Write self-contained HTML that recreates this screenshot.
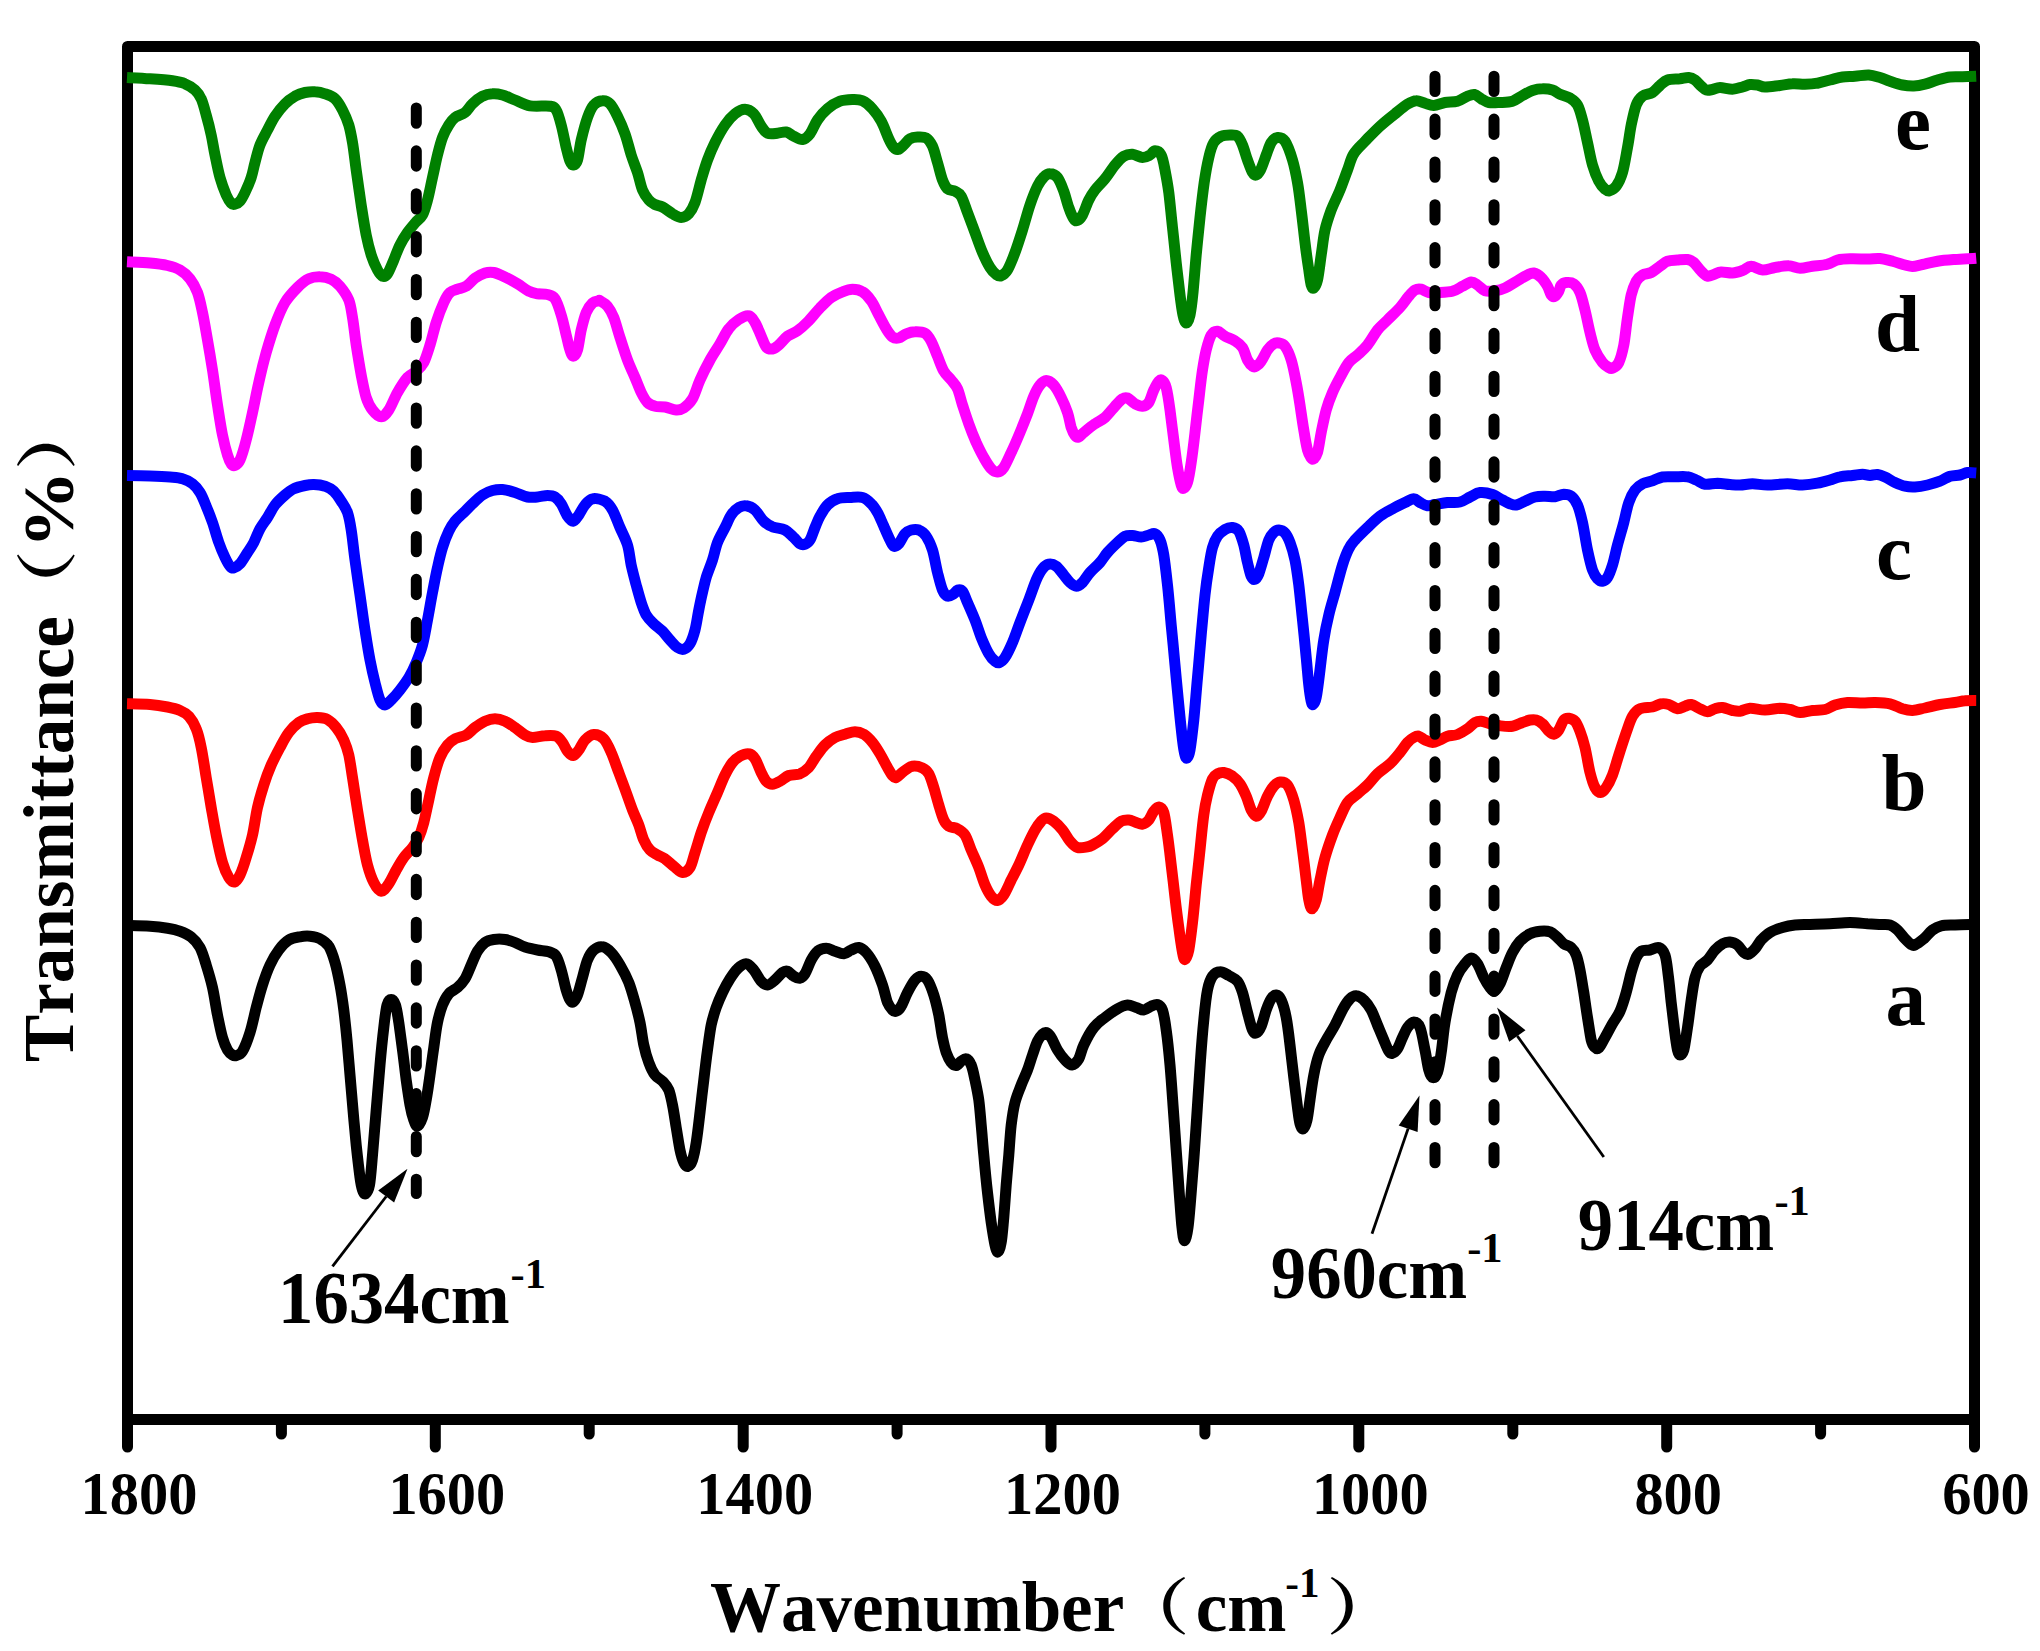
<!DOCTYPE html>
<html lang="en"><head><meta charset="utf-8"><title>FTIR spectra</title>
<style>html,body{margin:0;padding:0;background:#fff}svg{display:block}text{font-family:'Liberation Serif','Noto Serif CJK SC',serif;font-weight:bold;fill:#000;font-kerning:none}</style></head><body>
<svg width="2040" height="1651" viewBox="0 0 2040 1651">
<rect x="0" y="0" width="2040" height="1651" fill="#fff"/>
<rect x="127.5" y="46.5" width="1847.0" height="1373.0" fill="none" stroke="#000" stroke-width="11" stroke-linejoin="round"/>
<g stroke="#000" stroke-width="11" stroke-linecap="round">
<path d="M127.5 1419.5V1447.0"/>
<path d="M281.4 1419.5V1434.0"/>
<path d="M435.3 1419.5V1447.0"/>
<path d="M589.2 1419.5V1434.0"/>
<path d="M743.2 1419.5V1447.0"/>
<path d="M897.1 1419.5V1434.0"/>
<path d="M1051.0 1419.5V1447.0"/>
<path d="M1204.9 1419.5V1434.0"/>
<path d="M1358.8 1419.5V1447.0"/>
<path d="M1512.8 1419.5V1434.0"/>
<path d="M1666.7 1419.5V1447.0"/>
<path d="M1820.6 1419.5V1434.0"/>
<path d="M1974.5 1419.5V1447.0"/>
</g>
<g fill="none" stroke-width="11" stroke-linejoin="round" stroke-linecap="butt">
<path stroke="#000000" d="M127.0 925.5C130.8 925.6 143.2 925.8 150.0 926.2C156.8 926.7 162.5 927.4 167.5 928.2C172.5 929.1 176.0 929.8 180.0 931.2C184.0 932.7 187.9 934.3 191.2 937.0C194.6 939.7 197.5 942.8 200.0 947.5C202.5 952.2 204.2 958.3 206.2 965.0C208.3 971.7 210.6 979.2 212.5 987.5C214.4 995.8 215.8 1006.7 217.5 1015.0C219.2 1023.3 220.8 1031.7 222.5 1037.5C224.2 1043.3 225.8 1047.1 227.5 1050.0C229.2 1052.9 231.0 1054.1 232.5 1055.0C234.0 1055.9 234.6 1056.1 236.2 1055.5C237.9 1054.9 240.2 1055.1 242.5 1051.2C244.8 1047.4 247.7 1039.8 250.0 1032.5C252.3 1025.2 254.2 1015.4 256.2 1007.5C258.3 999.6 260.2 992.1 262.5 985.0C264.8 977.9 267.3 970.8 270.0 965.0C272.7 959.2 275.6 954.2 278.8 950.0C281.9 945.8 285.2 942.2 288.8 940.0C292.3 937.8 296.5 937.4 300.0 936.8C303.5 936.1 306.7 935.9 310.0 936.2C313.3 936.6 316.9 937.1 320.0 938.8C323.1 940.4 326.2 942.3 328.8 946.2C331.2 950.2 333.1 956.0 335.0 962.5C336.9 969.0 338.5 977.1 340.0 985.0C341.5 992.9 342.6 1000.8 343.8 1010.0C344.9 1019.2 346.0 1029.2 347.0 1040.0C348.0 1050.8 349.0 1063.3 350.0 1075.0C351.0 1086.7 352.0 1098.3 353.0 1110.0C354.0 1121.7 355.1 1133.8 356.2 1145.0C357.4 1156.2 359.0 1170.0 360.0 1177.5C361.0 1185.0 361.6 1187.3 362.5 1190.0C363.4 1192.7 364.3 1194.6 365.5 1193.8C366.7 1192.9 368.3 1191.5 369.5 1185.0C370.7 1178.5 371.4 1167.5 372.5 1155.0C373.6 1142.5 375.0 1125.0 376.2 1110.0C377.5 1095.0 378.8 1078.8 380.0 1065.0C381.2 1051.2 382.6 1037.5 383.8 1027.5C384.9 1017.5 385.8 1009.7 387.0 1005.0C388.2 1000.3 389.8 999.5 391.2 999.5C392.7 999.5 394.2 1001.2 395.5 1005.0C396.8 1008.8 397.6 1015.0 398.8 1022.5C399.9 1030.0 401.2 1040.4 402.5 1050.0C403.8 1059.6 405.0 1070.8 406.2 1080.0C407.5 1089.2 408.8 1098.3 410.0 1105.0C411.2 1111.7 412.5 1116.5 413.8 1120.0C415.0 1123.5 416.0 1126.7 417.5 1126.2C419.0 1125.8 421.0 1121.9 422.5 1117.5C424.0 1113.1 425.0 1107.1 426.2 1100.0C427.5 1092.9 428.8 1083.8 430.0 1075.0C431.2 1066.2 432.5 1056.2 433.8 1047.5C435.0 1038.8 436.0 1029.6 437.5 1022.5C439.0 1015.4 440.6 1009.8 442.5 1005.0C444.4 1000.2 446.2 996.7 448.8 993.8C451.2 990.8 454.8 990.0 457.5 987.5C460.2 985.0 462.7 982.5 465.0 978.8C467.3 975.0 469.2 969.6 471.2 965.0C473.3 960.4 475.2 955.0 477.5 951.2C479.8 947.5 482.3 944.5 485.0 942.5C487.7 940.5 490.4 940.0 493.8 939.5C497.1 939.0 501.5 939.0 505.0 939.5C508.5 940.0 511.7 941.2 515.0 942.5C518.3 943.8 521.2 945.8 525.0 947.0C528.8 948.2 533.5 949.2 537.5 950.0C541.5 950.8 545.6 950.7 548.8 951.8C551.9 952.8 554.2 953.2 556.2 956.2C558.3 959.3 559.6 964.4 561.2 970.0C562.9 975.6 564.8 985.0 566.2 990.0C567.7 995.0 568.8 998.0 570.0 1000.0C571.2 1002.0 572.0 1002.6 573.2 1001.8C574.5 1000.9 576.0 999.0 577.5 995.0C579.0 991.0 580.8 983.3 582.5 977.5C584.2 971.7 585.6 964.6 587.5 960.0C589.4 955.4 591.2 952.2 593.8 950.0C596.2 947.8 599.6 946.3 602.5 946.8C605.4 947.2 608.3 949.5 611.2 952.5C614.2 955.5 617.1 960.0 620.0 965.0C622.9 970.0 626.2 976.2 628.8 982.5C631.2 988.8 633.1 995.8 635.0 1002.5C636.9 1009.2 638.5 1015.4 640.0 1022.5C641.5 1029.6 642.3 1038.3 643.8 1045.0C645.2 1051.7 646.9 1057.5 648.8 1062.5C650.6 1067.5 652.7 1071.9 655.0 1075.0C657.3 1078.1 660.2 1078.8 662.5 1081.2C664.8 1083.8 667.1 1086.0 668.8 1090.0C670.4 1094.0 671.2 1098.8 672.5 1105.0C673.8 1111.2 675.0 1120.0 676.2 1127.5C677.5 1135.0 678.8 1144.2 680.0 1150.0C681.2 1155.8 682.4 1159.8 683.8 1162.5C685.1 1165.2 686.8 1166.7 688.2 1166.2C689.7 1165.8 691.2 1164.0 692.5 1160.0C693.8 1156.0 695.0 1150.4 696.2 1142.5C697.5 1134.6 698.8 1122.9 700.0 1112.5C701.2 1102.1 702.5 1090.4 703.8 1080.0C705.0 1069.6 706.2 1059.2 707.5 1050.0C708.8 1040.8 709.8 1032.1 711.2 1025.0C712.7 1017.9 714.4 1012.9 716.2 1007.5C718.1 1002.1 720.2 997.3 722.5 992.5C724.8 987.7 727.5 982.7 730.0 978.8C732.5 974.8 734.8 971.2 737.5 968.8C740.2 966.2 743.5 963.5 746.2 963.8C749.0 964.0 751.2 967.1 753.8 970.0C756.2 972.9 759.0 978.8 761.2 981.2C763.5 983.8 765.2 985.2 767.5 985.0C769.8 984.8 772.5 982.1 775.0 980.0C777.5 977.9 780.4 974.0 782.5 972.5C784.6 971.0 785.6 970.6 787.5 971.2C789.4 971.9 791.7 975.1 793.8 976.2C795.8 977.4 798.1 978.7 800.0 978.2C801.9 977.8 803.1 976.8 805.0 973.8C806.9 970.7 809.2 963.8 811.2 960.0C813.3 956.2 815.0 953.2 817.5 951.2C820.0 949.3 823.3 948.2 826.2 948.2C829.2 948.2 832.1 950.3 835.0 951.2C837.9 952.2 841.0 954.0 843.8 953.8C846.5 953.5 848.8 951.0 851.2 950.0C853.8 949.0 856.2 947.1 858.8 947.5C861.2 947.9 863.5 949.4 866.2 952.5C869.0 955.6 872.3 960.8 875.0 966.2C877.7 971.7 880.4 979.0 882.5 985.0C884.6 991.0 885.8 998.3 887.5 1002.5C889.2 1006.7 891.0 1008.5 892.5 1010.0C894.0 1011.5 894.8 1011.9 896.2 1011.2C897.7 1010.6 899.4 1009.4 901.2 1006.2C903.1 1003.1 905.2 996.9 907.5 992.5C909.8 988.1 912.7 982.7 915.0 980.0C917.3 977.3 919.2 976.2 921.2 976.2C923.3 976.2 925.4 976.9 927.5 980.0C929.6 983.1 931.9 989.2 933.8 995.0C935.6 1000.8 937.3 1007.9 938.8 1015.0C940.2 1022.1 941.2 1031.2 942.5 1037.5C943.8 1043.8 944.8 1048.3 946.2 1052.5C947.7 1056.7 949.6 1060.3 951.2 1062.5C952.9 1064.7 954.6 1065.7 956.2 1065.5C957.9 1065.3 959.6 1062.4 961.2 1061.2C962.9 1060.1 964.6 1058.1 966.2 1058.8C967.9 1059.4 969.8 1061.5 971.2 1065.0C972.7 1068.5 973.8 1074.2 975.0 1080.0C976.2 1085.8 977.7 1092.5 978.8 1100.0C979.8 1107.5 980.4 1115.8 981.2 1125.0C982.1 1134.2 982.7 1143.8 983.8 1155.0C984.8 1166.2 986.2 1181.2 987.5 1192.5C988.8 1203.8 990.0 1213.8 991.2 1222.5C992.5 1231.2 993.9 1240.1 995.0 1245.0C996.1 1249.9 997.0 1252.4 998.0 1252.0C999.0 1251.6 1000.3 1248.2 1001.2 1242.5C1002.2 1236.8 1002.9 1227.1 1003.8 1217.5C1004.6 1207.9 1005.4 1195.4 1006.2 1185.0C1007.1 1174.6 1007.9 1165.0 1008.8 1155.0C1009.6 1145.0 1010.2 1133.8 1011.2 1125.0C1012.3 1116.2 1013.3 1109.2 1015.0 1102.5C1016.7 1095.8 1019.2 1090.4 1021.2 1085.0C1023.3 1079.6 1025.6 1075.0 1027.5 1070.0C1029.4 1065.0 1030.8 1059.8 1032.5 1055.0C1034.2 1050.2 1035.8 1044.7 1037.5 1041.2C1039.2 1037.8 1041.0 1035.7 1042.5 1034.2C1044.0 1032.8 1044.8 1032.0 1046.2 1032.5C1047.7 1033.0 1049.4 1034.6 1051.2 1037.5C1053.1 1040.4 1055.2 1046.2 1057.5 1050.0C1059.8 1053.8 1062.6 1057.5 1065.0 1060.0C1067.4 1062.5 1069.7 1065.2 1072.0 1065.0C1074.3 1064.8 1076.8 1062.1 1078.8 1058.8C1080.7 1055.4 1081.2 1050.2 1083.8 1045.0C1086.2 1039.8 1090.2 1032.1 1093.8 1027.5C1097.3 1022.9 1101.0 1020.6 1105.0 1017.5C1109.0 1014.4 1113.8 1010.8 1117.5 1008.8C1121.2 1006.7 1124.4 1005.2 1127.5 1005.0C1130.6 1004.8 1133.5 1006.7 1136.2 1007.5C1139.0 1008.3 1141.2 1010.2 1143.8 1010.0C1146.2 1009.8 1149.0 1007.2 1151.2 1006.2C1153.5 1005.3 1155.6 1003.9 1157.5 1004.5C1159.4 1005.1 1161.0 1005.8 1162.5 1010.0C1164.0 1014.2 1165.0 1020.8 1166.2 1030.0C1167.5 1039.2 1168.9 1052.5 1170.0 1065.0C1171.1 1077.5 1172.0 1090.8 1173.0 1105.0C1174.0 1119.2 1175.2 1135.4 1176.2 1150.0C1177.3 1164.6 1178.3 1179.6 1179.2 1192.5C1180.2 1205.4 1181.1 1219.5 1182.0 1227.5C1182.9 1235.5 1183.5 1240.8 1184.5 1240.8C1185.5 1240.8 1186.9 1235.5 1188.0 1227.5C1189.1 1219.5 1190.2 1205.4 1191.2 1192.5C1192.3 1179.6 1193.5 1164.6 1194.5 1150.0C1195.5 1135.4 1196.5 1120.0 1197.5 1105.0C1198.5 1090.0 1199.5 1074.2 1200.5 1060.0C1201.5 1045.8 1202.6 1031.7 1203.8 1020.0C1204.9 1008.3 1206.0 997.3 1207.5 990.0C1209.0 982.7 1210.4 979.3 1212.5 976.2C1214.6 973.2 1217.3 971.9 1220.0 971.8C1222.7 971.6 1225.8 973.9 1228.8 975.5C1231.7 977.1 1235.2 978.4 1237.5 981.2C1239.8 984.1 1240.8 987.3 1242.5 992.5C1244.2 997.7 1245.8 1006.2 1247.5 1012.5C1249.2 1018.8 1251.0 1026.6 1252.5 1030.0C1254.0 1033.4 1254.8 1033.6 1256.2 1033.0C1257.7 1032.4 1259.6 1030.1 1261.2 1026.2C1262.9 1022.4 1264.6 1014.6 1266.2 1010.0C1267.9 1005.4 1269.6 1001.2 1271.2 998.8C1272.9 996.2 1274.6 994.8 1276.2 995.0C1277.9 995.2 1279.6 996.2 1281.2 1000.0C1282.9 1003.8 1284.8 1010.0 1286.2 1017.5C1287.7 1025.0 1288.8 1035.0 1290.0 1045.0C1291.2 1055.0 1292.5 1067.1 1293.8 1077.5C1295.0 1087.9 1296.5 1099.8 1297.5 1107.5C1298.5 1115.2 1299.0 1120.2 1300.0 1123.8C1301.0 1127.3 1302.1 1129.4 1303.2 1128.8C1304.4 1128.1 1305.9 1124.8 1307.0 1120.0C1308.1 1115.2 1308.9 1107.5 1310.0 1100.0C1311.1 1092.5 1312.3 1082.5 1313.8 1075.0C1315.2 1067.5 1316.7 1060.8 1318.8 1055.0C1320.8 1049.2 1323.5 1045.0 1326.2 1040.0C1329.0 1035.0 1332.1 1030.4 1335.0 1025.0C1337.9 1019.6 1341.2 1011.9 1343.8 1007.5C1346.2 1003.1 1347.9 1000.7 1350.0 998.8C1352.1 996.8 1354.0 995.5 1356.2 995.8C1358.5 996.0 1361.2 997.6 1363.8 1000.0C1366.2 1002.4 1369.0 1005.8 1371.2 1010.0C1373.5 1014.2 1375.4 1020.0 1377.5 1025.0C1379.6 1030.0 1381.9 1035.6 1383.8 1040.0C1385.6 1044.4 1387.3 1049.0 1388.8 1051.2C1390.2 1053.5 1391.0 1053.7 1392.5 1053.2C1394.0 1052.8 1395.8 1051.4 1397.5 1048.8C1399.2 1046.1 1400.8 1041.0 1402.5 1037.5C1404.2 1034.0 1405.6 1030.1 1407.5 1027.5C1409.4 1024.9 1411.7 1022.0 1413.8 1022.0C1415.8 1022.0 1418.1 1022.8 1420.0 1027.5C1421.9 1032.2 1423.5 1042.9 1425.0 1050.0C1426.5 1057.1 1427.5 1065.4 1428.8 1070.0C1430.0 1074.6 1431.0 1077.1 1432.5 1077.5C1434.0 1077.9 1436.0 1076.7 1437.5 1072.5C1439.0 1068.3 1440.0 1060.8 1441.2 1052.5C1442.5 1044.2 1443.3 1032.5 1445.0 1022.5C1446.7 1012.5 1449.2 1000.4 1451.2 992.5C1453.3 984.6 1455.2 979.8 1457.5 975.0C1459.8 970.2 1462.7 966.6 1465.0 963.8C1467.3 960.9 1469.2 958.0 1471.2 958.0C1473.3 958.0 1475.4 960.5 1477.5 963.8C1479.6 967.0 1481.7 973.5 1483.8 977.5C1485.8 981.5 1488.2 985.2 1490.0 987.5C1491.8 989.8 1492.8 991.9 1494.5 991.2C1496.2 990.6 1498.0 987.7 1500.0 983.8C1502.0 979.8 1504.2 972.7 1506.2 967.5C1508.3 962.3 1510.2 956.9 1512.5 952.5C1514.8 948.1 1517.1 944.4 1520.0 941.2C1522.9 938.1 1526.7 935.4 1530.0 933.8C1533.3 932.1 1536.7 931.6 1540.0 931.2C1543.3 930.9 1547.1 930.7 1550.0 931.8C1552.9 932.8 1555.2 935.5 1557.5 937.5C1559.8 939.5 1561.5 942.1 1563.8 943.8C1566.0 945.4 1569.2 945.6 1571.2 947.5C1573.3 949.4 1574.8 951.2 1576.2 955.0C1577.7 958.8 1578.8 963.8 1580.0 970.0C1581.2 976.2 1582.5 984.6 1583.8 992.5C1585.0 1000.4 1586.2 1009.6 1587.5 1017.5C1588.8 1025.4 1590.1 1035.1 1591.2 1040.0C1592.4 1044.9 1593.2 1045.7 1594.5 1047.0C1595.8 1048.3 1597.0 1049.6 1598.8 1048.0C1600.5 1046.4 1602.7 1041.5 1605.0 1037.5C1607.3 1033.5 1610.0 1028.1 1612.5 1023.8C1615.0 1019.4 1617.7 1016.5 1620.0 1011.2C1622.3 1006.0 1624.4 999.0 1626.2 992.5C1628.1 986.0 1629.6 978.3 1631.2 972.5C1632.9 966.7 1634.6 961.0 1636.2 957.5C1637.9 954.0 1639.0 952.5 1641.2 951.2C1643.5 950.0 1647.1 950.6 1650.0 950.0C1652.9 949.4 1656.2 946.7 1658.8 947.5C1661.2 948.3 1663.4 950.4 1665.0 955.0C1666.6 959.6 1667.2 967.1 1668.2 975.0C1669.3 982.9 1670.2 993.3 1671.2 1002.5C1672.3 1011.7 1673.5 1022.1 1674.5 1030.0C1675.5 1037.9 1676.6 1045.8 1677.5 1050.0C1678.4 1054.2 1679.0 1055.0 1680.0 1055.0C1681.0 1055.0 1682.5 1054.6 1683.8 1050.0C1685.0 1045.4 1686.2 1035.8 1687.5 1027.5C1688.8 1019.2 1690.0 1008.3 1691.2 1000.0C1692.5 991.7 1693.5 983.1 1695.0 977.5C1696.5 971.9 1697.9 969.2 1700.0 966.2C1702.1 963.3 1705.0 962.7 1707.5 960.0C1710.0 957.3 1712.5 952.7 1715.0 950.0C1717.5 947.3 1720.0 945.1 1722.5 943.8C1725.0 942.4 1727.5 941.8 1730.0 942.0C1732.5 942.2 1735.2 943.2 1737.5 945.0C1739.8 946.8 1741.9 951.0 1743.8 952.5C1745.6 954.0 1746.9 954.9 1748.8 954.2C1750.6 953.6 1752.9 951.1 1755.0 948.8C1757.1 946.4 1758.8 942.7 1761.2 940.0C1763.8 937.3 1766.5 934.6 1770.0 932.5C1773.5 930.4 1778.3 928.8 1782.5 927.5C1786.7 926.2 1790.4 925.5 1795.0 925.0C1799.6 924.5 1804.2 924.7 1810.0 924.5C1815.8 924.3 1823.3 924.1 1830.0 923.8C1836.7 923.4 1843.8 922.5 1850.0 922.5C1856.2 922.5 1862.5 923.4 1867.5 923.8C1872.5 924.1 1876.2 924.3 1880.0 924.5C1883.8 924.7 1887.1 924.1 1890.0 925.0C1892.9 925.9 1895.0 927.7 1897.5 930.0C1900.0 932.3 1902.7 936.3 1905.0 938.8C1907.3 941.2 1909.6 943.5 1911.2 944.5C1912.9 945.5 1912.9 946.0 1915.0 945.0C1917.1 944.0 1920.8 941.2 1923.8 938.8C1926.7 936.2 1929.6 932.2 1932.5 930.0C1935.4 927.8 1937.5 926.6 1941.2 925.8C1945.0 924.9 1950.2 925.2 1955.0 925.0C1959.8 924.8 1966.5 924.6 1970.0 924.5C1973.5 924.4 1975.0 924.5 1976.0 924.5"/>
<path stroke="#ff0000" d="M127.0 703.8C130.8 703.9 143.2 704.0 150.0 704.5C156.8 705.0 162.5 706.0 167.5 707.0C172.5 708.0 176.5 709.0 180.0 710.5C183.5 712.0 186.0 713.2 188.8 716.2C191.5 719.3 194.2 723.5 196.2 728.8C198.3 734.0 199.6 739.4 201.2 747.5C202.9 755.6 204.6 767.5 206.2 777.5C207.9 787.5 209.6 797.9 211.2 807.5C212.9 817.1 214.4 825.8 216.2 835.0C218.1 844.2 220.4 855.4 222.5 862.5C224.6 869.6 226.8 874.2 228.8 877.5C230.8 880.8 232.6 882.4 234.5 882.0C236.4 881.6 238.0 879.1 240.0 875.0C242.0 870.9 244.2 864.2 246.2 857.5C248.3 850.8 250.6 843.3 252.5 835.0C254.4 826.7 255.6 815.8 257.5 807.5C259.4 799.2 261.5 792.1 263.8 785.0C266.0 777.9 268.5 771.2 271.2 765.0C274.0 758.8 277.1 752.9 280.0 747.5C282.9 742.1 285.6 736.7 288.8 732.5C291.9 728.3 295.6 724.8 298.8 722.5C301.9 720.2 304.4 719.6 307.5 718.8C310.6 717.9 314.2 717.4 317.5 717.5C320.8 717.6 324.4 717.8 327.5 719.5C330.6 721.2 333.5 724.1 336.2 727.5C339.0 730.9 341.7 735.4 343.8 740.0C345.8 744.6 347.3 748.8 348.8 755.0C350.2 761.2 351.0 768.3 352.5 777.5C354.0 786.7 355.8 799.6 357.5 810.0C359.2 820.4 360.8 830.8 362.5 840.0C364.2 849.2 365.6 857.9 367.5 865.0C369.4 872.1 371.5 878.1 373.8 882.5C376.0 886.9 378.8 891.0 381.2 891.2C383.8 891.5 386.2 887.3 388.8 883.8C391.2 880.2 393.8 874.4 396.2 870.0C398.8 865.6 401.0 861.2 403.8 857.5C406.5 853.8 410.0 850.8 412.5 847.5C415.0 844.2 416.9 841.7 418.8 837.5C420.6 833.3 422.1 828.8 423.8 822.5C425.4 816.2 427.1 807.5 428.8 800.0C430.4 792.5 431.9 784.6 433.8 777.5C435.6 770.4 437.7 762.9 440.0 757.5C442.3 752.1 445.0 748.1 447.5 745.0C450.0 741.9 451.9 740.4 455.0 738.8C458.1 737.1 462.9 736.9 466.2 735.0C469.6 733.1 471.9 729.8 475.0 727.5C478.1 725.2 481.7 722.7 485.0 721.2C488.3 719.8 491.7 718.8 495.0 718.8C498.3 718.8 501.7 719.8 505.0 721.2C508.3 722.7 511.7 725.2 515.0 727.5C518.3 729.8 522.1 733.3 525.0 735.0C527.9 736.7 529.2 737.4 532.5 737.5C535.8 737.6 541.0 736.0 545.0 735.8C549.0 735.5 553.3 735.1 556.2 736.2C559.2 737.4 560.6 740.0 562.5 742.5C564.4 745.0 565.7 749.1 567.5 751.2C569.3 753.4 571.4 755.7 573.2 755.5C575.1 755.3 576.8 752.6 578.8 750.0C580.7 747.4 582.5 742.6 585.0 740.0C587.5 737.4 590.6 734.7 593.8 734.5C596.9 734.3 600.8 735.8 603.8 738.8C606.7 741.8 608.8 746.9 611.2 752.5C613.8 758.1 616.2 765.8 618.8 772.5C621.2 779.2 624.0 786.2 626.2 792.5C628.5 798.8 630.4 804.6 632.5 810.0C634.6 815.4 636.9 820.0 638.8 825.0C640.6 830.0 641.9 835.8 643.8 840.0C645.6 844.2 647.7 847.5 650.0 850.0C652.3 852.5 655.0 853.5 657.5 855.0C660.0 856.5 662.3 856.9 665.0 858.8C667.7 860.6 670.8 864.0 673.8 866.2C676.7 868.5 679.8 872.3 682.5 872.5C685.2 872.7 687.9 870.8 690.0 867.5C692.1 864.2 693.1 858.3 695.0 852.5C696.9 846.7 699.0 839.2 701.2 832.5C703.5 825.8 706.0 819.2 708.8 812.5C711.5 805.8 714.8 798.8 717.5 792.5C720.2 786.2 722.5 780.0 725.0 775.0C727.5 770.0 730.0 765.6 732.5 762.5C735.0 759.4 737.3 757.7 740.0 756.2C742.7 754.8 746.2 753.3 748.8 753.8C751.2 754.2 752.9 755.6 755.0 758.8C757.1 761.9 759.4 768.8 761.2 772.5C763.1 776.2 764.4 779.3 766.2 781.2C768.1 783.2 770.2 784.2 772.5 784.2C774.8 784.2 777.3 782.7 780.0 781.2C782.7 779.8 785.4 776.8 788.8 775.5C792.1 774.2 796.7 775.1 800.0 773.8C803.3 772.4 806.0 770.4 808.8 767.5C811.5 764.6 813.5 760.0 816.2 756.2C819.0 752.5 821.9 748.1 825.0 745.0C828.1 741.9 831.7 739.3 835.0 737.5C838.3 735.7 841.7 735.2 845.0 734.2C848.3 733.3 851.9 731.8 855.0 731.8C858.1 731.8 860.8 732.5 863.8 734.2C866.7 736.0 869.8 739.2 872.5 742.5C875.2 745.8 877.5 749.6 880.0 753.8C882.5 757.9 885.4 763.9 887.5 767.5C889.6 771.1 891.0 773.8 892.5 775.5C894.0 777.2 894.4 778.2 896.2 777.5C898.1 776.8 901.0 773.1 903.8 771.2C906.5 769.4 909.4 766.8 912.5 766.2C915.6 765.7 919.8 766.8 922.5 768.0C925.2 769.2 926.9 770.5 928.8 773.8C930.6 777.0 932.1 782.3 933.8 787.5C935.4 792.7 937.1 799.6 938.8 805.0C940.4 810.4 942.1 816.5 943.8 820.0C945.4 823.5 946.5 824.8 948.8 826.2C951.0 827.7 954.8 827.3 957.5 828.8C960.2 830.2 962.7 831.5 965.0 835.0C967.3 838.5 969.0 844.6 971.2 850.0C973.5 855.4 976.5 861.7 978.8 867.5C981.0 873.3 982.9 880.2 985.0 885.0C987.1 889.8 989.2 893.7 991.2 896.2C993.3 898.8 995.4 900.7 997.5 900.5C999.6 900.3 1001.5 898.4 1003.8 895.0C1006.0 891.6 1008.8 885.0 1011.2 880.0C1013.8 875.0 1016.0 870.8 1018.8 865.0C1021.5 859.2 1024.8 850.8 1027.5 845.0C1030.2 839.2 1032.7 834.0 1035.0 830.0C1037.3 826.0 1039.4 823.2 1041.2 821.2C1043.1 819.2 1044.2 818.0 1046.2 818.0C1048.3 818.0 1051.0 819.2 1053.8 821.2C1056.5 823.2 1059.8 826.7 1062.5 830.0C1065.2 833.3 1067.5 838.3 1070.0 841.2C1072.5 844.2 1074.6 846.6 1077.5 847.5C1080.4 848.4 1085.0 847.2 1087.5 846.8C1090.0 846.3 1090.0 846.3 1092.5 845.0C1095.0 843.7 1099.2 841.5 1102.5 838.8C1105.8 836.0 1109.4 831.7 1112.5 828.8C1115.6 825.8 1118.5 822.7 1121.2 821.2C1124.0 819.8 1126.2 819.8 1128.8 820.0C1131.2 820.2 1134.0 821.8 1136.2 822.5C1138.5 823.2 1140.4 824.7 1142.5 824.2C1144.6 823.8 1146.9 822.2 1148.8 820.0C1150.6 817.8 1152.1 813.4 1153.8 811.2C1155.4 809.1 1157.1 806.8 1158.8 807.0C1160.4 807.2 1162.3 807.8 1163.8 812.5C1165.2 817.2 1166.2 826.2 1167.5 835.0C1168.8 843.8 1170.0 854.6 1171.2 865.0C1172.5 875.4 1173.8 887.1 1175.0 897.5C1176.2 907.9 1177.5 918.3 1178.8 927.5C1180.0 936.7 1181.5 947.2 1182.5 952.5C1183.5 957.8 1184.0 959.9 1185.0 959.5C1186.0 959.1 1187.5 956.2 1188.8 950.0C1190.0 943.8 1191.2 933.3 1192.5 922.5C1193.8 911.7 1195.0 897.1 1196.2 885.0C1197.5 872.9 1198.8 861.7 1200.0 850.0C1201.2 838.3 1202.5 824.2 1203.8 815.0C1205.0 805.8 1206.0 801.0 1207.5 795.0C1209.0 789.0 1210.8 782.3 1212.5 778.8C1214.2 775.2 1215.6 774.8 1217.5 773.8C1219.4 772.7 1221.2 772.1 1223.8 772.5C1226.2 772.9 1229.8 774.4 1232.5 776.2C1235.2 778.1 1237.7 780.4 1240.0 783.8C1242.3 787.1 1244.4 791.9 1246.2 796.2C1248.1 800.6 1249.6 806.7 1251.2 810.0C1252.9 813.3 1254.6 816.0 1256.2 816.2C1257.9 816.5 1259.4 814.6 1261.2 811.2C1263.1 807.9 1265.4 800.4 1267.5 796.2C1269.6 792.1 1271.7 788.6 1273.8 786.2C1275.8 783.9 1277.7 782.2 1280.0 782.0C1282.3 781.8 1285.2 782.0 1287.5 785.0C1289.8 788.0 1291.9 793.8 1293.8 800.0C1295.6 806.2 1297.3 814.2 1298.8 822.5C1300.2 830.8 1301.2 840.4 1302.5 850.0C1303.8 859.6 1305.2 871.7 1306.2 880.0C1307.3 888.3 1307.8 895.2 1308.8 900.0C1309.7 904.8 1310.8 908.8 1312.0 908.8C1313.2 908.8 1314.9 904.8 1316.2 900.0C1317.6 895.2 1318.5 887.1 1320.0 880.0C1321.5 872.9 1322.9 865.0 1325.0 857.5C1327.1 850.0 1330.0 841.7 1332.5 835.0C1335.0 828.3 1337.5 822.9 1340.0 817.5C1342.5 812.1 1344.6 806.5 1347.5 802.5C1350.4 798.5 1354.2 796.7 1357.5 793.8C1360.8 790.8 1364.2 788.3 1367.5 785.0C1370.8 781.7 1373.8 777.3 1377.5 773.8C1381.2 770.2 1386.2 767.3 1390.0 763.8C1393.8 760.2 1397.1 756.0 1400.0 752.5C1402.9 749.0 1405.2 745.0 1407.5 742.5C1409.8 740.0 1411.9 738.5 1413.8 737.5C1415.6 736.5 1416.9 735.8 1418.8 736.2C1420.6 736.7 1422.7 739.0 1425.0 740.0C1427.3 741.0 1430.0 742.5 1432.5 742.5C1435.0 742.5 1437.5 741.0 1440.0 740.0C1442.5 739.0 1444.6 737.2 1447.5 736.2C1450.4 735.3 1454.2 735.8 1457.5 734.5C1460.8 733.2 1464.6 730.8 1467.5 728.8C1470.4 726.8 1472.7 723.8 1475.0 722.5C1477.3 721.2 1478.8 721.0 1481.2 721.2C1483.8 721.5 1486.9 723.0 1490.0 723.8C1493.1 724.5 1496.2 725.3 1500.0 725.8C1503.8 726.2 1508.8 726.8 1512.5 726.2C1516.2 725.7 1519.6 723.5 1522.5 722.5C1525.4 721.5 1527.7 720.4 1530.0 720.0C1532.3 719.6 1534.2 719.4 1536.2 720.0C1538.3 720.6 1540.4 721.9 1542.5 723.8C1544.6 725.6 1546.9 729.5 1548.8 731.2C1550.6 733.0 1552.1 734.5 1553.8 734.2C1555.4 734.0 1557.1 732.4 1558.8 730.0C1560.4 727.6 1562.1 722.0 1563.8 720.0C1565.4 718.0 1566.9 718.0 1568.8 718.2C1570.6 718.5 1573.1 719.1 1575.0 721.2C1576.9 723.4 1578.3 726.9 1580.0 731.2C1581.7 735.6 1583.3 740.6 1585.0 747.5C1586.7 754.4 1588.3 765.8 1590.0 772.5C1591.7 779.2 1593.2 784.2 1595.0 787.5C1596.8 790.8 1598.9 792.5 1600.8 792.5C1602.6 792.5 1604.3 790.4 1606.2 787.5C1608.2 784.6 1610.4 780.4 1612.5 775.0C1614.6 769.6 1616.5 762.1 1618.8 755.0C1621.0 747.9 1624.0 739.0 1626.2 732.5C1628.5 726.0 1630.2 720.2 1632.5 716.2C1634.8 712.3 1636.7 710.3 1640.0 708.8C1643.3 707.2 1649.0 707.8 1652.5 707.0C1656.0 706.2 1658.5 704.2 1661.2 703.8C1664.0 703.3 1666.0 703.7 1668.8 704.5C1671.5 705.3 1674.8 708.5 1677.5 708.8C1680.2 709.0 1682.7 707.0 1685.0 706.2C1687.3 705.5 1688.8 704.1 1691.2 704.5C1693.8 704.9 1697.3 707.5 1700.0 708.8C1702.7 710.0 1705.0 711.8 1707.5 711.8C1710.0 711.8 1712.5 709.5 1715.0 708.8C1717.5 708.0 1719.6 707.2 1722.5 707.5C1725.4 707.8 1729.6 709.9 1732.5 710.5C1735.4 711.1 1737.1 711.6 1740.0 711.2C1742.9 710.9 1745.8 708.5 1750.0 708.2C1754.2 708.0 1760.0 710.0 1765.0 710.0C1770.0 710.0 1775.8 708.3 1780.0 708.2C1784.2 708.2 1786.7 708.8 1790.0 709.5C1793.3 710.2 1796.2 712.3 1800.0 712.5C1803.8 712.7 1808.3 711.0 1812.5 710.5C1816.7 710.0 1821.2 710.4 1825.0 709.5C1828.8 708.6 1831.2 706.2 1835.0 705.0C1838.8 703.8 1842.9 702.8 1847.5 702.5C1852.1 702.2 1857.9 703.0 1862.5 703.0C1867.1 703.0 1870.4 702.4 1875.0 702.5C1879.6 702.6 1885.4 702.7 1890.0 703.8C1894.6 704.8 1898.8 707.6 1902.5 708.8C1906.2 709.9 1908.8 710.6 1912.5 710.5C1916.2 710.4 1920.4 709.0 1925.0 708.0C1929.6 707.0 1935.0 705.4 1940.0 704.5C1945.0 703.6 1950.8 703.1 1955.0 702.5C1959.2 701.9 1961.5 701.1 1965.0 700.8C1968.5 700.4 1974.4 700.5 1976.2 700.5"/>
<path stroke="#0000ff" d="M127.0 475.5C130.8 475.6 142.8 475.8 150.0 476.0C157.2 476.2 164.6 476.5 170.0 477.0C175.4 477.5 178.8 477.6 182.5 478.8C186.2 479.9 189.6 481.5 192.5 483.8C195.4 486.0 197.7 488.8 200.0 492.5C202.3 496.2 204.2 501.2 206.2 506.2C208.3 511.2 210.4 516.5 212.5 522.5C214.6 528.5 216.7 536.7 218.8 542.5C220.8 548.3 223.1 553.5 225.0 557.5C226.9 561.5 228.5 564.5 230.0 566.2C231.5 568.0 232.1 568.4 233.8 568.0C235.4 567.6 237.7 566.3 240.0 563.8C242.3 561.2 245.2 556.0 247.5 552.5C249.8 549.0 251.7 546.5 253.8 542.5C255.8 538.5 257.7 532.9 260.0 528.8C262.3 524.6 265.0 521.5 267.5 517.5C270.0 513.5 272.1 508.8 275.0 505.0C277.9 501.2 281.9 497.7 285.0 495.0C288.1 492.3 290.4 490.3 293.8 488.8C297.1 487.2 301.7 486.2 305.0 485.5C308.3 484.8 310.4 484.4 313.8 484.5C317.1 484.6 321.7 485.1 325.0 486.2C328.3 487.4 331.0 488.8 333.8 491.2C336.5 493.8 339.0 497.7 341.2 501.2C343.5 504.8 345.8 507.7 347.5 512.5C349.2 517.3 350.0 522.1 351.2 530.0C352.5 537.9 353.5 549.2 355.0 560.0C356.5 570.8 358.3 583.3 360.0 595.0C361.7 606.7 363.3 619.2 365.0 630.0C366.7 640.8 368.3 651.2 370.0 660.0C371.7 668.8 373.3 675.8 375.0 682.5C376.7 689.2 378.3 696.2 380.0 700.0C381.7 703.8 383.1 705.0 385.0 705.0C386.9 705.0 388.8 702.5 391.2 700.0C393.8 697.5 397.1 693.8 400.0 690.0C402.9 686.2 406.0 682.1 408.8 677.5C411.5 672.9 414.0 667.9 416.2 662.5C418.5 657.1 420.6 652.1 422.5 645.0C424.4 637.9 425.8 628.8 427.5 620.0C429.2 611.2 430.8 601.2 432.5 592.5C434.2 583.8 435.8 575.0 437.5 567.5C439.2 560.0 440.6 553.5 442.5 547.5C444.4 541.5 446.7 535.6 448.8 531.2C450.8 526.9 452.5 524.4 455.0 521.2C457.5 518.1 460.8 515.4 463.8 512.5C466.7 509.6 469.4 506.7 472.5 503.8C475.6 500.8 479.2 497.2 482.5 495.0C485.8 492.8 489.2 491.4 492.5 490.5C495.8 489.6 498.8 489.2 502.5 489.5C506.2 489.8 510.8 491.2 515.0 492.5C519.2 493.8 523.8 496.2 527.5 497.0C531.2 497.8 534.2 497.2 537.5 497.0C540.8 496.8 544.6 495.5 547.5 495.5C550.4 495.5 552.7 495.6 555.0 497.0C557.3 498.4 559.2 500.5 561.2 503.8C563.3 507.0 565.5 513.3 567.5 516.2C569.5 519.2 571.4 521.5 573.2 521.2C575.1 521.0 576.8 517.7 578.8 515.0C580.7 512.3 582.7 507.7 585.0 505.0C587.3 502.3 589.2 499.4 592.5 498.8C595.8 498.1 601.7 499.4 605.0 501.2C608.3 503.1 610.0 505.6 612.5 510.0C615.0 514.4 617.5 521.7 620.0 527.5C622.5 533.3 625.6 538.8 627.5 545.0C629.4 551.2 629.8 558.3 631.2 565.0C632.7 571.7 634.6 578.8 636.2 585.0C637.9 591.2 639.6 597.5 641.2 602.5C642.9 607.5 644.2 611.5 646.2 615.0C648.3 618.5 651.0 621.0 653.8 623.8C656.5 626.5 659.8 628.5 662.5 631.2C665.2 634.0 667.5 637.3 670.0 640.0C672.5 642.7 675.2 646.0 677.5 647.5C679.8 649.0 681.7 649.9 683.8 649.2C685.8 648.6 688.1 647.0 690.0 643.8C691.9 640.5 693.5 635.6 695.0 630.0C696.5 624.4 697.5 616.2 698.8 610.0C700.0 603.8 701.2 597.9 702.5 592.5C703.8 587.1 704.6 582.9 706.2 577.5C707.9 572.1 710.6 565.8 712.5 560.0C714.4 554.2 715.4 547.9 717.5 542.5C719.6 537.1 722.7 532.1 725.0 527.5C727.3 522.9 729.0 518.3 731.2 515.0C733.5 511.7 736.2 509.0 738.8 507.5C741.2 506.0 743.5 505.3 746.2 505.8C749.0 506.2 752.1 507.4 755.0 510.0C757.9 512.6 760.8 518.5 763.8 521.2C766.7 524.0 769.0 525.3 772.5 526.8C776.0 528.2 781.5 528.2 785.0 530.0C788.5 531.8 791.2 535.2 793.8 537.5C796.2 539.8 798.1 542.6 800.0 543.8C801.9 544.9 803.3 544.9 805.0 544.2C806.7 543.6 808.3 542.8 810.0 540.0C811.7 537.2 813.3 531.5 815.0 527.5C816.7 523.5 817.9 520.0 820.0 516.2C822.1 512.5 824.6 507.9 827.5 505.0C830.4 502.1 833.8 500.0 837.5 498.8C841.2 497.5 845.8 497.7 850.0 497.5C854.2 497.3 859.0 496.5 862.5 497.5C866.0 498.5 868.8 501.2 871.2 503.8C873.8 506.2 875.4 508.8 877.5 512.5C879.6 516.2 881.7 521.7 883.8 526.2C885.8 530.8 888.3 536.7 890.0 540.0C891.7 543.3 892.3 545.6 893.8 546.2C895.2 546.9 896.9 545.8 898.8 543.8C900.6 541.7 902.9 536.0 905.0 533.8C907.1 531.5 909.0 530.6 911.2 530.0C913.5 529.4 916.2 529.0 918.8 530.0C921.2 531.0 924.0 532.9 926.2 536.2C928.5 539.6 930.6 544.0 932.5 550.0C934.4 556.0 935.8 565.8 937.5 572.5C939.2 579.2 940.8 586.0 942.5 590.0C944.2 594.0 945.6 595.6 947.5 596.2C949.4 596.9 952.1 594.8 953.8 593.8C955.4 592.7 956.0 590.4 957.5 590.0C959.0 589.6 960.8 589.2 962.5 591.2C964.2 593.3 965.4 597.7 967.5 602.5C969.6 607.3 972.7 614.2 975.0 620.0C977.3 625.8 979.0 631.9 981.2 637.5C983.5 643.1 986.5 649.8 988.8 653.8C991.0 657.7 993.2 659.8 995.0 661.2C996.8 662.7 997.8 663.1 999.5 662.5C1001.2 661.9 1002.8 660.8 1005.0 657.5C1007.2 654.2 1010.0 648.3 1012.5 642.5C1015.0 636.7 1017.3 629.6 1020.0 622.5C1022.7 615.4 1026.0 607.1 1028.8 600.0C1031.5 592.9 1034.0 585.2 1036.2 580.0C1038.5 574.8 1040.4 571.4 1042.5 568.8C1044.6 566.1 1046.5 564.7 1048.8 564.2C1051.0 563.8 1053.8 564.5 1056.2 566.2C1058.8 568.0 1061.5 572.3 1063.8 575.0C1066.0 577.7 1067.9 580.6 1070.0 582.5C1072.1 584.4 1074.2 586.2 1076.2 586.2C1078.3 586.2 1080.2 584.8 1082.5 582.5C1084.8 580.2 1087.1 575.8 1090.0 572.5C1092.9 569.2 1097.1 565.8 1100.0 562.5C1102.9 559.2 1104.6 555.8 1107.5 552.5C1110.4 549.2 1114.6 545.2 1117.5 542.5C1120.4 539.8 1122.5 537.4 1125.0 536.2C1127.5 535.1 1129.8 535.4 1132.5 535.5C1135.2 535.6 1138.5 537.1 1141.2 537.0C1144.0 536.9 1146.5 535.5 1148.8 535.0C1151.0 534.5 1153.1 532.9 1155.0 533.8C1156.9 534.6 1158.5 536.5 1160.0 540.0C1161.5 543.5 1162.5 547.5 1163.8 555.0C1165.0 562.5 1166.2 573.3 1167.5 585.0C1168.8 596.7 1170.0 611.7 1171.2 625.0C1172.5 638.3 1173.8 651.7 1175.0 665.0C1176.2 678.3 1177.5 692.5 1178.8 705.0C1180.0 717.5 1181.5 731.7 1182.5 740.0C1183.5 748.3 1184.2 752.0 1185.0 755.0C1185.8 758.0 1186.2 758.8 1187.0 758.0C1187.8 757.2 1188.9 756.3 1190.0 750.0C1191.1 743.7 1192.5 732.1 1193.8 720.0C1195.0 707.9 1196.2 691.7 1197.5 677.5C1198.8 663.3 1200.0 648.8 1201.2 635.0C1202.5 621.2 1203.8 606.2 1205.0 595.0C1206.2 583.8 1207.5 575.4 1208.8 567.5C1210.0 559.6 1211.0 552.7 1212.5 547.5C1214.0 542.3 1215.4 539.2 1217.5 536.2C1219.6 533.2 1222.5 531.0 1225.0 529.5C1227.5 528.0 1230.2 527.2 1232.5 527.5C1234.8 527.8 1236.9 528.3 1238.8 531.2C1240.6 534.2 1242.3 539.8 1243.8 545.0C1245.2 550.2 1246.2 557.3 1247.5 562.5C1248.8 567.7 1250.0 573.5 1251.2 576.2C1252.5 579.0 1253.8 579.7 1255.0 579.2C1256.2 578.8 1257.3 577.4 1258.8 573.8C1260.2 570.1 1262.1 563.1 1263.8 557.5C1265.4 551.9 1267.1 544.2 1268.8 540.0C1270.4 535.8 1272.1 534.2 1273.8 532.5C1275.4 530.8 1276.9 529.9 1278.8 530.0C1280.6 530.1 1283.1 530.9 1285.0 533.0C1286.9 535.1 1288.3 538.0 1290.0 542.5C1291.7 547.0 1293.5 552.9 1295.0 560.0C1296.5 567.1 1297.5 575.0 1298.8 585.0C1300.0 595.0 1301.2 607.9 1302.5 620.0C1303.8 632.1 1305.2 646.7 1306.2 657.5C1307.3 668.3 1307.9 677.7 1308.8 685.0C1309.6 692.3 1310.5 698.0 1311.2 701.2C1312.0 704.5 1312.2 705.1 1313.0 704.5C1313.8 703.9 1315.1 703.2 1316.2 697.5C1317.4 691.8 1318.8 679.6 1320.0 670.0C1321.2 660.4 1322.3 649.2 1323.8 640.0C1325.2 630.8 1326.9 622.9 1328.8 615.0C1330.6 607.1 1332.7 600.8 1335.0 592.5C1337.3 584.2 1340.2 572.3 1342.5 565.0C1344.8 557.7 1346.7 552.9 1348.8 548.8C1350.8 544.6 1351.9 543.5 1355.0 540.0C1358.1 536.5 1363.3 531.5 1367.5 527.5C1371.7 523.5 1375.8 519.4 1380.0 516.2C1384.2 513.1 1388.3 511.0 1392.5 508.8C1396.7 506.5 1401.5 504.2 1405.0 502.5C1408.5 500.8 1411.2 498.8 1413.8 498.8C1416.2 498.8 1417.7 501.3 1420.0 502.5C1422.3 503.7 1425.0 505.4 1427.5 505.8C1430.0 506.1 1431.7 505.0 1435.0 504.5C1438.3 504.0 1443.3 502.9 1447.5 502.5C1451.7 502.1 1456.2 502.9 1460.0 502.0C1463.8 501.1 1466.7 498.6 1470.0 497.0C1473.3 495.4 1476.2 492.9 1480.0 492.5C1483.8 492.1 1488.8 493.2 1492.5 494.5C1496.2 495.8 1499.6 498.5 1502.5 500.0C1505.4 501.5 1507.7 502.9 1510.0 503.8C1512.3 504.6 1513.8 505.4 1516.2 505.0C1518.8 504.6 1521.9 502.6 1525.0 501.2C1528.1 499.9 1531.7 497.8 1535.0 497.0C1538.3 496.2 1541.7 496.3 1545.0 496.2C1548.3 496.2 1551.9 497.1 1555.0 496.8C1558.1 496.4 1561.0 494.3 1563.8 494.2C1566.5 494.2 1569.0 494.5 1571.2 496.2C1573.5 498.0 1575.6 500.6 1577.5 505.0C1579.4 509.4 1580.8 515.0 1582.5 522.5C1584.2 530.0 1585.8 542.1 1587.5 550.0C1589.2 557.9 1590.8 565.2 1592.5 570.0C1594.2 574.8 1595.8 576.9 1597.5 578.8C1599.2 580.6 1600.8 581.5 1602.5 581.2C1604.2 581.0 1605.8 580.2 1607.5 577.5C1609.2 574.8 1610.8 570.4 1612.5 565.0C1614.2 559.6 1615.6 552.1 1617.5 545.0C1619.4 537.9 1621.9 529.6 1623.8 522.5C1625.6 515.4 1626.9 507.9 1628.8 502.5C1630.6 497.1 1632.7 493.1 1635.0 490.0C1637.3 486.9 1639.6 485.3 1642.5 483.8C1645.4 482.2 1649.2 481.9 1652.5 480.8C1655.8 479.6 1658.8 477.7 1662.5 477.0C1666.2 476.3 1670.8 476.8 1675.0 476.8C1679.2 476.7 1684.0 476.2 1687.5 476.8C1691.0 477.3 1693.3 478.8 1696.2 480.0C1699.2 481.2 1701.5 483.7 1705.0 484.2C1708.5 484.8 1713.3 483.2 1717.5 483.2C1721.7 483.3 1726.2 484.2 1730.0 484.5C1733.8 484.8 1736.2 485.1 1740.0 485.0C1743.8 484.9 1747.9 483.8 1752.5 483.8C1757.1 483.8 1761.7 485.0 1767.5 485.0C1773.3 485.0 1781.7 483.8 1787.5 483.8C1793.3 483.8 1797.5 485.1 1802.5 485.0C1807.5 484.9 1812.9 484.1 1817.5 483.2C1822.1 482.4 1826.2 481.1 1830.0 480.0C1833.8 478.9 1836.2 477.5 1840.0 476.8C1843.8 476.0 1848.8 475.9 1852.5 475.5C1856.2 475.1 1859.6 474.2 1862.5 474.2C1865.4 474.2 1867.5 475.5 1870.0 475.5C1872.5 475.5 1875.0 474.2 1877.5 474.5C1880.0 474.8 1882.1 475.7 1885.0 477.0C1887.9 478.3 1891.7 481.0 1895.0 482.5C1898.3 484.0 1901.7 485.5 1905.0 486.2C1908.3 487.0 1911.2 487.2 1915.0 487.0C1918.8 486.8 1923.3 486.0 1927.5 485.0C1931.7 484.0 1936.2 482.7 1940.0 481.2C1943.8 479.8 1946.7 477.3 1950.0 476.2C1953.3 475.2 1957.1 475.6 1960.0 475.0C1962.9 474.4 1964.8 472.8 1967.5 472.5C1970.2 472.2 1974.8 472.9 1976.2 473.0"/>
<path stroke="#ff00ff" d="M127.0 261.8C130.8 262.0 143.2 262.4 150.0 263.0C156.8 263.6 162.5 264.3 167.5 265.5C172.5 266.7 176.2 267.8 180.0 270.0C183.8 272.2 187.1 275.0 190.0 278.8C192.9 282.5 195.4 286.9 197.5 292.5C199.6 298.1 200.8 304.6 202.5 312.5C204.2 320.4 205.8 330.4 207.5 340.0C209.2 349.6 210.8 359.2 212.5 370.0C214.2 380.8 215.8 394.2 217.5 405.0C219.2 415.8 220.8 426.7 222.5 435.0C224.2 443.3 226.0 450.2 227.5 455.0C229.0 459.8 230.0 462.0 231.2 463.8C232.5 465.5 233.5 466.1 235.0 465.5C236.5 464.9 238.1 464.2 240.0 460.0C241.9 455.8 244.2 447.9 246.2 440.0C248.3 432.1 250.4 422.1 252.5 412.5C254.6 402.9 256.5 392.5 258.8 382.5C261.0 372.5 263.5 362.1 266.2 352.5C269.0 342.9 271.9 333.3 275.0 325.0C278.1 316.7 281.2 308.8 285.0 302.5C288.8 296.2 293.5 291.5 297.5 287.5C301.5 283.5 305.0 280.5 308.8 278.8C312.5 277.0 316.2 276.7 320.0 276.8C323.8 276.8 327.9 277.7 331.2 279.2C334.6 280.8 337.1 282.8 340.0 286.2C342.9 289.7 346.7 294.8 348.8 300.0C350.8 305.2 351.2 310.0 352.5 317.5C353.8 325.0 354.8 335.4 356.2 345.0C357.7 354.6 359.6 366.2 361.2 375.0C362.9 383.8 364.4 391.7 366.2 397.5C368.1 403.3 370.0 406.8 372.5 410.0C375.0 413.2 378.5 416.8 381.2 416.8C384.0 416.8 386.0 414.0 388.8 410.0C391.5 406.0 394.4 397.9 397.5 392.5C400.6 387.1 404.4 381.0 407.5 377.5C410.6 374.0 413.5 373.8 416.2 371.2C419.0 368.8 421.5 366.9 423.8 362.5C426.0 358.1 427.9 351.7 430.0 345.0C432.1 338.3 434.0 329.6 436.2 322.5C438.5 315.4 441.5 307.5 443.8 302.5C446.0 297.5 447.7 294.7 450.0 292.5C452.3 290.3 454.8 290.3 457.5 289.2C460.2 288.2 463.3 288.1 466.2 286.2C469.2 284.4 471.9 280.5 475.0 278.2C478.1 276.0 481.9 274.0 485.0 273.0C488.1 272.0 490.4 271.8 493.8 272.5C497.1 273.2 501.0 275.1 505.0 277.0C509.0 278.9 513.5 281.4 517.5 283.8C521.5 286.1 525.4 289.6 528.8 291.2C532.1 292.9 534.4 293.2 537.5 293.8C540.6 294.3 544.6 293.7 547.5 294.5C550.4 295.3 552.7 295.3 555.0 298.8C557.3 302.2 559.4 309.0 561.2 315.0C563.1 321.0 564.8 329.2 566.2 335.0C567.7 340.8 568.8 346.5 570.0 350.0C571.2 353.5 572.0 356.2 573.2 356.2C574.5 356.2 576.2 354.4 577.5 350.0C578.8 345.6 579.8 336.2 581.2 330.0C582.7 323.8 584.4 317.0 586.2 312.5C588.1 308.0 590.4 305.0 592.5 303.0C594.6 301.0 597.5 301.1 598.8 300.8C600.0 300.4 598.5 299.8 600.0 300.8C601.5 301.7 605.2 303.5 607.5 306.2C609.8 309.0 611.7 312.3 613.8 317.5C615.8 322.7 617.7 330.4 620.0 337.5C622.3 344.6 625.0 353.3 627.5 360.0C630.0 366.7 632.7 372.1 635.0 377.5C637.3 382.9 639.2 388.3 641.2 392.5C643.3 396.7 645.2 400.2 647.5 402.5C649.8 404.8 652.1 405.5 655.0 406.2C657.9 407.0 661.5 406.4 665.0 407.0C668.5 407.6 673.1 409.8 676.2 410.0C679.4 410.2 681.0 409.9 683.8 408.0C686.5 406.1 689.8 403.4 692.5 398.8C695.2 394.1 697.1 386.5 700.0 380.0C702.9 373.5 706.7 366.0 710.0 360.0C713.3 354.0 716.9 349.0 720.0 343.8C723.1 338.5 725.6 332.8 728.8 328.8C731.9 324.7 735.4 321.7 738.8 319.5C742.1 317.3 746.0 315.2 748.8 315.8C751.5 316.2 752.9 319.1 755.0 322.5C757.1 325.9 759.4 332.2 761.2 336.2C763.1 340.3 764.4 344.9 766.2 347.0C768.1 349.1 770.4 349.3 772.5 349.0C774.6 348.7 776.2 347.1 778.8 345.0C781.2 342.9 784.4 338.6 787.5 336.2C790.6 333.9 794.2 333.1 797.5 330.8C800.8 328.4 803.8 325.8 807.5 322.0C811.2 318.2 816.0 312.1 820.0 308.0C824.0 303.9 827.5 300.2 831.2 297.5C835.0 294.8 839.0 293.1 842.5 291.8C846.0 290.4 849.2 289.2 852.5 289.2C855.8 289.2 859.4 289.8 862.5 291.8C865.6 293.7 868.5 296.9 871.2 300.8C874.0 304.6 876.2 310.3 878.8 315.0C881.2 319.7 884.0 325.1 886.2 328.8C888.5 332.4 890.4 335.5 892.5 337.0C894.6 338.5 896.5 338.5 898.8 338.0C901.0 337.5 903.5 334.8 906.2 333.8C909.0 332.7 911.9 331.8 915.0 331.8C918.1 331.7 922.3 331.7 925.0 333.2C927.7 334.8 929.2 337.4 931.2 341.2C933.3 345.1 935.4 351.2 937.5 356.2C939.6 361.2 941.5 367.3 943.8 371.2C946.0 375.2 949.0 377.1 951.2 380.0C953.5 382.9 955.6 384.6 957.5 388.8C959.4 392.9 960.6 399.2 962.5 405.0C964.4 410.8 966.5 417.5 968.8 423.8C971.0 430.0 973.8 436.9 976.2 442.5C978.8 448.1 981.2 453.1 983.8 457.5C986.2 461.9 989.0 466.3 991.2 468.8C993.5 471.2 995.4 472.2 997.5 472.0C999.6 471.8 1001.5 470.8 1003.8 467.5C1006.0 464.2 1008.5 458.3 1011.2 452.5C1014.0 446.7 1017.3 439.0 1020.0 432.5C1022.7 426.0 1025.2 419.8 1027.5 413.8C1029.8 407.7 1031.7 401.0 1033.8 396.2C1035.8 391.5 1037.9 387.6 1040.0 385.0C1042.1 382.4 1044.0 380.5 1046.2 380.5C1048.5 380.5 1051.2 382.2 1053.8 385.0C1056.2 387.8 1059.0 392.9 1061.2 397.5C1063.5 402.1 1065.8 407.5 1067.5 412.5C1069.2 417.5 1070.0 423.7 1071.2 427.5C1072.5 431.3 1073.8 433.9 1075.0 435.5C1076.2 437.1 1077.3 437.5 1078.8 437.0C1080.2 436.5 1081.0 434.7 1083.8 432.5C1086.5 430.3 1091.5 426.2 1095.0 423.8C1098.5 421.2 1101.7 420.4 1105.0 417.5C1108.3 414.6 1112.1 409.4 1115.0 406.2C1117.9 403.1 1120.4 400.1 1122.5 398.8C1124.6 397.4 1125.4 397.2 1127.5 398.0C1129.6 398.8 1132.5 402.4 1135.0 403.8C1137.5 405.1 1140.2 406.5 1142.5 406.2C1144.8 406.0 1146.9 405.2 1148.8 402.5C1150.6 399.8 1152.1 393.5 1153.8 390.0C1155.4 386.5 1157.3 382.8 1158.8 381.2C1160.2 379.7 1161.2 379.5 1162.5 380.5C1163.8 381.5 1165.0 382.6 1166.2 387.5C1167.5 392.4 1168.8 401.2 1170.0 410.0C1171.2 418.8 1172.5 430.4 1173.8 440.0C1175.0 449.6 1176.2 460.0 1177.5 467.5C1178.8 475.0 1180.2 481.5 1181.2 485.0C1182.3 488.5 1182.7 488.7 1183.8 488.2C1184.8 487.8 1186.2 486.8 1187.5 482.5C1188.8 478.2 1190.0 470.8 1191.2 462.5C1192.5 454.2 1193.8 442.9 1195.0 432.5C1196.2 422.1 1197.5 410.4 1198.8 400.0C1200.0 389.6 1201.2 378.3 1202.5 370.0C1203.8 361.7 1204.8 355.8 1206.2 350.0C1207.7 344.2 1209.4 338.1 1211.2 335.0C1213.1 331.9 1215.2 331.0 1217.5 331.2C1219.8 331.5 1222.1 334.7 1225.0 336.2C1227.9 337.8 1232.1 338.9 1235.0 340.8C1237.9 342.6 1240.4 344.3 1242.5 347.5C1244.6 350.7 1245.8 356.9 1247.5 360.0C1249.2 363.1 1251.0 365.2 1252.5 366.2C1254.0 367.3 1254.8 367.1 1256.2 366.2C1257.7 365.4 1259.4 364.0 1261.2 361.2C1263.1 358.5 1265.4 352.9 1267.5 350.0C1269.6 347.1 1271.9 344.9 1273.8 343.8C1275.6 342.6 1276.9 342.6 1278.8 343.0C1280.6 343.4 1282.9 343.4 1285.0 346.2C1287.1 349.1 1289.4 354.0 1291.2 360.0C1293.1 366.0 1294.8 375.0 1296.2 382.5C1297.7 390.0 1298.8 397.1 1300.0 405.0C1301.2 412.9 1302.5 422.5 1303.8 430.0C1305.0 437.5 1306.2 445.3 1307.5 450.0C1308.8 454.7 1310.2 456.5 1311.2 458.0C1312.3 459.5 1312.7 459.7 1313.8 458.8C1314.8 457.8 1316.2 456.9 1317.5 452.5C1318.8 448.1 1319.8 439.6 1321.2 432.5C1322.7 425.4 1324.4 416.7 1326.2 410.0C1328.1 403.3 1330.2 397.9 1332.5 392.5C1334.8 387.1 1337.3 382.5 1340.0 377.5C1342.7 372.5 1345.8 366.2 1348.8 362.5C1351.7 358.8 1354.4 357.9 1357.5 355.0C1360.6 352.1 1364.2 349.2 1367.5 345.0C1370.8 340.8 1374.2 334.2 1377.5 330.0C1380.8 325.8 1383.8 323.8 1387.5 320.0C1391.2 316.2 1396.5 311.5 1400.0 307.5C1403.5 303.5 1406.2 299.2 1408.8 296.2C1411.2 293.3 1412.9 291.2 1415.0 290.0C1417.1 288.8 1419.0 288.8 1421.2 289.2C1423.5 289.7 1426.0 292.0 1428.8 292.5C1431.5 293.0 1433.5 292.7 1437.5 292.5C1441.5 292.3 1448.3 292.3 1452.5 291.2C1456.7 290.2 1459.4 287.8 1462.5 286.2C1465.6 284.7 1468.8 282.2 1471.2 282.0C1473.8 281.8 1475.2 283.5 1477.5 285.0C1479.8 286.5 1482.1 289.8 1485.0 290.8C1487.9 291.7 1491.7 291.2 1495.0 290.8C1498.3 290.3 1501.2 289.7 1505.0 288.0C1508.8 286.3 1513.8 282.9 1517.5 280.8C1521.2 278.6 1524.8 276.3 1527.5 275.0C1530.2 273.7 1531.5 272.6 1533.8 273.0C1536.0 273.4 1539.0 275.3 1541.2 277.5C1543.5 279.7 1545.8 283.3 1547.5 286.2C1549.2 289.2 1550.0 293.3 1551.2 295.0C1552.5 296.7 1553.8 296.9 1555.0 296.2C1556.2 295.6 1557.7 293.1 1558.8 291.2C1559.8 289.4 1560.0 286.5 1561.2 285.0C1562.5 283.5 1564.2 282.7 1566.2 282.5C1568.3 282.3 1571.5 282.1 1573.8 283.8C1576.0 285.4 1578.1 288.1 1580.0 292.5C1581.9 296.9 1583.3 303.3 1585.0 310.0C1586.7 316.7 1588.3 325.8 1590.0 332.5C1591.7 339.2 1592.9 345.0 1595.0 350.0C1597.1 355.0 1600.2 359.6 1602.5 362.5C1604.8 365.4 1607.1 366.5 1608.8 367.5C1610.4 368.5 1610.8 369.1 1612.5 368.2C1614.2 367.4 1616.9 366.4 1618.8 362.5C1620.6 358.6 1622.3 352.5 1623.8 345.0C1625.2 337.5 1626.2 325.8 1627.5 317.5C1628.8 309.2 1629.8 301.0 1631.2 295.0C1632.7 289.0 1634.4 284.6 1636.2 281.2C1638.1 277.9 1640.0 276.5 1642.5 275.0C1645.0 273.5 1648.3 274.0 1651.2 272.5C1654.2 271.0 1657.3 268.1 1660.0 266.2C1662.7 264.4 1664.6 262.3 1667.5 261.2C1670.4 260.2 1674.2 260.3 1677.5 260.0C1680.8 259.7 1684.8 259.1 1687.5 259.5C1690.2 259.9 1691.5 260.5 1693.8 262.5C1696.0 264.5 1699.0 269.0 1701.2 271.2C1703.5 273.5 1705.4 275.7 1707.5 276.2C1709.6 276.8 1711.5 275.2 1713.8 274.5C1716.0 273.8 1718.1 272.2 1721.2 272.0C1724.4 271.8 1729.0 273.2 1732.5 273.0C1736.0 272.8 1739.4 271.6 1742.5 270.5C1745.6 269.4 1747.9 266.3 1751.2 266.2C1754.6 266.2 1758.5 269.8 1762.5 270.0C1766.5 270.2 1770.6 268.2 1775.0 267.5C1779.4 266.8 1784.6 265.6 1788.8 265.8C1792.9 265.9 1796.0 268.2 1800.0 268.2C1804.0 268.3 1807.9 266.9 1812.5 266.2C1817.1 265.6 1823.3 265.3 1827.5 264.2C1831.7 263.2 1833.8 260.9 1837.5 260.0C1841.2 259.1 1845.0 258.9 1850.0 258.8C1855.0 258.6 1862.5 259.0 1867.5 259.0C1872.5 259.0 1875.8 258.1 1880.0 258.5C1884.2 258.9 1888.3 260.2 1892.5 261.2C1896.7 262.3 1901.7 264.1 1905.0 265.0C1908.3 265.9 1909.6 266.6 1912.5 266.5C1915.4 266.4 1918.3 265.4 1922.5 264.5C1926.7 263.6 1932.1 262.1 1937.5 261.2C1942.9 260.4 1948.5 260.0 1955.0 259.5C1961.5 259.0 1972.7 258.5 1976.2 258.2"/>
<path stroke="#008000" d="M127.0 77.5C130.8 77.7 142.4 78.2 150.0 78.8C157.6 79.3 166.7 79.9 172.5 80.8C178.3 81.6 181.2 82.2 185.0 83.8C188.8 85.3 192.3 87.5 195.0 90.0C197.7 92.5 199.4 94.6 201.2 98.8C203.1 102.9 204.6 109.0 206.2 115.0C207.9 121.0 209.8 128.3 211.2 135.0C212.7 141.7 213.5 147.9 215.0 155.0C216.5 162.1 218.1 170.8 220.0 177.5C221.9 184.2 224.4 190.7 226.2 195.0C228.1 199.3 229.8 201.7 231.2 203.2C232.7 204.8 233.5 204.6 235.0 204.2C236.5 203.9 238.3 203.2 240.0 201.2C241.7 199.3 243.1 196.5 245.0 192.5C246.9 188.5 249.6 182.5 251.2 177.5C252.9 172.5 253.5 167.9 255.0 162.5C256.5 157.1 257.9 150.4 260.0 145.0C262.1 139.6 265.0 134.8 267.5 130.0C270.0 125.2 272.1 120.6 275.0 116.2C277.9 111.9 281.7 107.1 285.0 103.8C288.3 100.4 291.7 98.1 295.0 96.2C298.3 94.4 301.7 93.2 305.0 92.5C308.3 91.8 311.7 91.5 315.0 91.8C318.3 92.0 321.7 92.6 325.0 93.8C328.3 94.9 332.1 96.0 335.0 98.8C337.9 101.5 340.2 105.6 342.5 110.0C344.8 114.4 347.1 119.6 348.8 125.0C350.4 130.4 351.2 135.0 352.5 142.5C353.8 150.0 354.8 159.6 356.2 170.0C357.7 180.4 359.6 194.2 361.2 205.0C362.9 215.8 364.6 226.7 366.2 235.0C367.9 243.3 369.4 249.2 371.2 255.0C373.1 260.8 375.6 266.5 377.5 270.0C379.4 273.5 380.8 275.6 382.5 276.2C384.2 276.9 385.6 276.5 387.5 273.8C389.4 271.0 391.7 264.8 393.8 260.0C395.8 255.2 397.7 249.6 400.0 245.0C402.3 240.4 404.9 236.2 407.5 232.5C410.1 228.8 413.0 225.4 415.5 222.5C418.0 219.6 420.5 218.8 422.5 215.0C424.5 211.2 425.8 206.2 427.5 200.0C429.2 193.8 430.8 185.0 432.5 177.5C434.2 170.0 435.8 161.7 437.5 155.0C439.2 148.3 440.6 142.5 442.5 137.5C444.4 132.5 446.7 128.3 448.8 125.0C450.8 121.7 452.3 119.6 455.0 117.5C457.7 115.4 462.1 114.8 465.0 112.5C467.9 110.2 469.6 106.5 472.5 103.8C475.4 101.0 479.2 97.9 482.5 96.2C485.8 94.6 489.2 94.0 492.5 93.8C495.8 93.5 498.8 94.0 502.5 95.0C506.2 96.0 510.4 98.2 515.0 100.0C519.6 101.8 524.2 104.7 530.0 105.8C535.8 106.8 545.6 105.5 550.0 106.2C554.4 107.0 554.4 106.9 556.2 110.0C558.1 113.1 559.6 118.8 561.2 125.0C562.9 131.2 564.8 141.5 566.2 147.5C567.7 153.5 568.8 158.3 570.0 161.2C571.2 164.2 572.0 165.2 573.2 165.0C574.5 164.8 576.2 164.2 577.5 160.0C578.8 155.8 579.6 147.1 581.2 140.0C582.9 132.9 585.4 123.3 587.5 117.5C589.6 111.7 591.2 107.8 593.8 105.0C596.2 102.2 599.8 101.0 602.5 100.8C605.2 100.5 607.5 101.2 610.0 103.8C612.5 106.3 615.0 111.2 617.5 116.2C620.0 121.2 622.7 127.3 625.0 133.8C627.3 140.2 629.2 148.5 631.2 155.0C633.3 161.5 635.6 166.7 637.5 172.5C639.4 178.3 640.6 185.4 642.5 190.0C644.4 194.6 646.7 197.6 648.8 200.0C650.8 202.4 652.7 203.3 655.0 204.5C657.3 205.7 659.6 205.5 662.5 207.0C665.4 208.5 669.4 212.0 672.5 213.8C675.6 215.5 678.5 217.5 681.2 217.5C684.0 217.5 686.5 216.2 688.8 213.8C691.0 211.2 692.9 208.1 695.0 202.5C697.1 196.9 699.2 187.1 701.2 180.0C703.3 172.9 705.2 166.2 707.5 160.0C709.8 153.8 712.1 148.3 715.0 142.5C717.9 136.7 721.7 129.8 725.0 125.0C728.3 120.2 731.7 116.4 735.0 113.8C738.3 111.1 741.9 109.2 745.0 109.2C748.1 109.2 751.0 110.9 753.8 113.8C756.5 116.6 759.0 123.0 761.2 126.2C763.5 129.5 764.8 132.1 767.5 133.2C770.2 134.4 774.4 133.5 777.5 133.2C780.6 133.0 783.5 131.5 786.2 132.0C789.0 132.5 791.0 135.0 793.8 136.2C796.5 137.5 799.8 139.9 802.5 139.5C805.2 139.1 807.5 137.0 810.0 133.8C812.5 130.5 814.6 124.2 817.5 120.0C820.4 115.8 823.8 111.9 827.5 108.8C831.2 105.6 835.8 102.8 840.0 101.2C844.2 99.7 848.8 99.6 852.5 99.5C856.2 99.4 859.2 99.2 862.5 100.8C865.8 102.3 869.4 105.3 872.5 108.8C875.6 112.2 878.5 116.2 881.2 121.2C884.0 126.2 886.7 134.4 888.8 138.8C890.8 143.1 892.2 145.7 893.8 147.5C895.3 149.3 896.3 149.9 898.0 149.5C899.7 149.1 901.8 146.8 903.8 145.0C905.8 143.2 907.7 140.1 910.0 138.8C912.3 137.4 914.8 137.1 917.5 137.0C920.2 136.9 923.8 136.5 926.2 138.0C928.8 139.5 930.6 142.2 932.5 146.2C934.4 150.3 935.8 156.9 937.5 162.5C939.2 168.1 940.8 175.6 942.5 180.0C944.2 184.4 945.4 186.9 947.5 188.8C949.6 190.6 952.7 190.0 955.0 191.2C957.3 192.5 959.2 192.7 961.2 196.2C963.3 199.8 965.2 206.5 967.5 212.5C969.8 218.5 972.5 225.8 975.0 232.5C977.5 239.2 980.0 246.7 982.5 252.5C985.0 258.3 987.7 263.8 990.0 267.5C992.3 271.2 994.4 273.1 996.2 274.5C998.1 275.9 999.4 276.5 1001.2 275.8C1003.1 275.0 1005.2 273.9 1007.5 270.0C1009.8 266.1 1012.5 259.2 1015.0 252.5C1017.5 245.8 1020.0 237.9 1022.5 230.0C1025.0 222.1 1027.5 212.3 1030.0 205.0C1032.5 197.7 1035.2 190.9 1037.5 186.2C1039.8 181.6 1041.7 179.1 1043.8 177.0C1045.8 174.9 1047.7 173.7 1050.0 173.8C1052.3 173.8 1055.2 174.6 1057.5 177.5C1059.8 180.4 1061.9 186.2 1063.8 191.2C1065.6 196.2 1067.1 202.9 1068.8 207.5C1070.4 212.1 1072.3 216.6 1073.8 218.8C1075.2 220.9 1076.0 221.1 1077.5 220.5C1079.0 219.9 1080.6 218.4 1082.5 215.0C1084.4 211.6 1086.7 204.2 1088.8 200.0C1090.8 195.8 1092.3 193.5 1095.0 190.0C1097.7 186.5 1101.7 182.9 1105.0 178.8C1108.3 174.6 1111.9 168.8 1115.0 165.0C1118.1 161.2 1120.8 158.0 1123.8 156.2C1126.7 154.5 1129.4 154.0 1132.5 154.2C1135.6 154.5 1139.6 157.4 1142.5 157.5C1145.4 157.6 1147.9 156.1 1150.0 155.0C1152.1 153.9 1153.1 150.8 1155.0 150.8C1156.9 150.8 1159.6 151.8 1161.2 155.0C1162.9 158.2 1163.8 163.8 1165.0 170.0C1166.2 176.2 1167.5 182.9 1168.8 192.5C1170.0 202.1 1171.2 215.8 1172.5 227.5C1173.8 239.2 1175.0 251.2 1176.2 262.5C1177.5 273.8 1178.9 286.2 1180.0 295.0C1181.1 303.8 1182.0 310.3 1183.0 315.0C1184.0 319.7 1185.1 323.0 1186.2 323.0C1187.4 323.0 1188.9 320.1 1190.0 315.0C1191.1 309.9 1192.0 302.5 1193.0 292.5C1194.0 282.5 1195.1 267.5 1196.2 255.0C1197.4 242.5 1198.7 229.6 1200.0 217.5C1201.3 205.4 1202.8 192.5 1204.2 182.5C1205.7 172.5 1207.2 164.2 1208.8 157.5C1210.3 150.8 1211.7 146.0 1213.8 142.5C1215.8 139.0 1218.5 137.5 1221.2 136.2C1224.0 135.0 1227.3 135.0 1230.0 135.0C1232.7 135.0 1235.4 134.6 1237.5 136.2C1239.6 137.9 1240.8 141.0 1242.5 145.0C1244.2 149.0 1245.8 155.4 1247.5 160.0C1249.2 164.6 1251.0 170.0 1252.5 172.5C1254.0 175.0 1254.9 175.4 1256.2 175.0C1257.6 174.6 1258.8 173.3 1260.5 170.0C1262.2 166.7 1264.5 159.6 1266.2 155.0C1268.0 150.4 1269.4 145.4 1271.2 142.5C1273.1 139.6 1275.2 137.7 1277.5 137.5C1279.8 137.3 1282.5 137.5 1285.0 141.2C1287.5 145.0 1290.4 153.1 1292.5 160.0C1294.6 166.9 1296.0 174.2 1297.5 182.5C1299.0 190.8 1300.0 200.0 1301.2 210.0C1302.5 220.0 1303.8 232.5 1305.0 242.5C1306.2 252.5 1307.7 262.9 1308.8 270.0C1309.8 277.1 1310.4 282.0 1311.2 285.0C1312.1 288.0 1312.7 288.8 1313.8 288.0C1314.8 287.2 1316.2 285.5 1317.5 280.0C1318.8 274.5 1320.0 263.3 1321.2 255.0C1322.5 246.7 1323.3 237.5 1325.0 230.0C1326.7 222.5 1328.8 216.7 1331.2 210.0C1333.8 203.3 1337.3 196.7 1340.0 190.0C1342.7 183.3 1345.2 176.0 1347.5 170.0C1349.8 164.0 1350.8 158.5 1353.8 153.8C1356.7 149.0 1360.6 145.8 1365.0 141.2C1369.4 136.7 1375.0 130.8 1380.0 126.2C1385.0 121.7 1390.4 117.4 1395.0 113.8C1399.6 110.1 1404.0 106.4 1407.5 104.2C1411.0 102.1 1413.3 100.9 1416.2 100.8C1419.2 100.6 1422.1 102.5 1425.0 103.2C1427.9 104.0 1430.4 105.6 1433.8 105.5C1437.1 105.4 1441.0 103.2 1445.0 102.5C1449.0 101.8 1453.8 102.3 1457.5 101.2C1461.2 100.2 1464.7 97.4 1467.5 96.2C1470.3 95.1 1472.2 94.1 1474.5 94.5C1476.8 94.9 1478.9 97.4 1481.2 98.8C1483.6 100.1 1485.6 101.9 1488.8 102.5C1491.9 103.1 1496.0 102.7 1500.0 102.5C1504.0 102.3 1508.8 102.4 1512.5 101.2C1516.2 100.1 1519.2 97.3 1522.5 95.5C1525.8 93.7 1529.2 91.6 1532.5 90.5C1535.8 89.4 1539.2 88.8 1542.5 88.8C1545.8 88.7 1549.6 89.1 1552.5 90.0C1555.4 90.9 1557.1 92.9 1560.0 94.2C1562.9 95.6 1567.1 96.2 1570.0 98.0C1572.9 99.8 1575.4 101.3 1577.5 105.0C1579.6 108.7 1580.8 113.8 1582.5 120.0C1584.2 126.2 1585.8 135.0 1587.5 142.5C1589.2 150.0 1590.6 158.5 1592.5 165.0C1594.4 171.5 1596.7 177.2 1598.8 181.2C1600.8 185.3 1603.2 187.7 1605.0 189.2C1606.8 190.8 1607.6 191.2 1609.5 190.8C1611.4 190.2 1614.1 189.3 1616.2 186.2C1618.4 183.2 1620.6 179.0 1622.5 172.5C1624.4 166.0 1626.0 155.4 1627.5 147.5C1629.0 139.6 1629.8 132.1 1631.2 125.0C1632.7 117.9 1634.4 109.8 1636.2 105.0C1638.1 100.2 1639.8 98.3 1642.5 96.2C1645.2 94.2 1649.6 94.3 1652.5 92.5C1655.4 90.7 1657.5 87.6 1660.0 85.5C1662.5 83.4 1664.2 81.1 1667.5 80.0C1670.8 78.9 1676.5 79.2 1680.0 78.8C1683.5 78.3 1686.2 77.3 1688.8 77.5C1691.2 77.7 1692.9 78.5 1695.0 80.0C1697.1 81.5 1699.4 84.6 1701.2 86.2C1703.1 87.9 1704.4 89.5 1706.2 90.0C1708.1 90.5 1710.2 89.9 1712.5 89.5C1714.8 89.1 1716.7 87.5 1720.0 87.5C1723.3 87.5 1728.8 89.3 1732.5 89.2C1736.2 89.2 1739.6 87.8 1742.5 87.0C1745.4 86.2 1747.5 84.8 1750.0 84.5C1752.5 84.2 1755.0 84.6 1757.5 85.0C1760.0 85.4 1761.2 86.9 1765.0 87.0C1768.8 87.1 1775.4 86.0 1780.0 85.5C1784.6 85.0 1788.3 84.0 1792.5 83.8C1796.7 83.5 1800.8 84.3 1805.0 84.2C1809.2 84.2 1813.3 84.0 1817.5 83.2C1821.7 82.5 1825.8 81.0 1830.0 80.0C1834.2 79.0 1838.3 77.6 1842.5 77.0C1846.7 76.4 1850.6 76.6 1855.0 76.2C1859.4 75.9 1864.6 74.8 1868.8 75.0C1872.9 75.2 1876.5 76.5 1880.0 77.5C1883.5 78.5 1886.2 80.0 1890.0 81.2C1893.8 82.5 1898.5 84.2 1902.5 85.0C1906.5 85.8 1910.0 86.1 1913.8 86.0C1917.5 85.9 1921.0 85.2 1925.0 84.2C1929.0 83.2 1933.3 81.2 1937.5 80.0C1941.7 78.8 1945.8 77.5 1950.0 77.0C1954.2 76.5 1958.1 76.9 1962.5 76.8C1966.9 76.6 1974.0 76.3 1976.2 76.2"/>
</g>
<g stroke="#000" stroke-width="11" stroke-linecap="round" fill="none" stroke-dasharray="15.35 27.5">
<path d="M416.3 108.0V1193.5"/>
<path d="M1435.0 76.2V1163.5"/>
<path d="M1494.0 76.2V1163.5"/>
</g>
<text transform="translate(139.0 1513.8) scale(0.99 1.03)" font-size="59" text-anchor="middle">1800</text>
<text transform="translate(446.8 1513.8) scale(0.99 1.03)" font-size="59" text-anchor="middle">1600</text>
<text transform="translate(754.7 1513.8) scale(0.99 1.03)" font-size="59" text-anchor="middle">1400</text>
<text transform="translate(1062.5 1513.8) scale(0.99 1.03)" font-size="59" text-anchor="middle">1200</text>
<text transform="translate(1370.3 1513.8) scale(0.99 1.03)" font-size="59" text-anchor="middle">1000</text>
<text transform="translate(1678.2 1513.8) scale(0.99 1.03)" font-size="59" text-anchor="middle">800</text>
<text transform="translate(1986.0 1513.8) scale(0.99 1.03)" font-size="59" text-anchor="middle">600</text>
<text transform="translate(1895 149)" font-size="81">e</text>
<text transform="translate(1875 351)" font-size="81">d</text>
<text transform="translate(1876 579)" font-size="81">c</text>
<text transform="translate(1881.5 810)" font-size="81">b</text>
<text transform="translate(1885.5 1025)" font-size="81">a</text>
<text transform="translate(710 1630.7)" font-size="71">Wavenumber</text>
<text transform="translate(1116.3 1628.5) scale(1.2 1)" font-size="61" font-family="'Noto Serif CJK SC',serif" font-weight="600">（</text>
<text transform="translate(1195.8 1630.7)" font-size="71">cm</text>
<text transform="translate(1285.3 1597) scale(1 1.03)" font-size="41">-1</text>
<text transform="translate(1326.5 1628.5) scale(1.2 1)" font-size="61" font-family="'Noto Serif CJK SC',serif" font-weight="600">）</text>
<text transform="translate(72.5 1062) rotate(-90)" font-size="71">Transmittance</text>
<text transform="translate(69 624.5) rotate(-90) scale(1.22 1)" font-size="61" font-family="'Noto Serif CJK SC',serif" font-weight="600">（</text>
<text transform="translate(72.5 548.5) rotate(-90) scale(1.1 1)" font-size="71">%</text>
<text transform="translate(69 470.5) rotate(-90) scale(1.22 1)" font-size="61" font-family="'Noto Serif CJK SC',serif" font-weight="600">）</text>
<text transform="translate(278.1 1322.9) scale(1 1.05)" font-size="70.7">1634cm</text>
<text transform="translate(1270.8 1297.5) scale(1 1.05)" font-size="70.7">960cm</text>
<text transform="translate(1577.8 1250.3) scale(1 1.05)" font-size="70.7">914cm</text>
<text transform="translate(510.5 1288)" font-size="42.5">-1</text>
<text transform="translate(1467.2 1262)" font-size="42.5">-1</text>
<text transform="translate(1774.4 1214.9)" font-size="42.5">-1</text>
<g stroke="#000" stroke-width="2.8" fill="#000">
<path d="M332.5 1266.3L386.2 1196.5" fill="none"/>
<path d="M407.5 1168.8L394.1 1202.6L378.2 1190.4Z" stroke="none"/>
<path d="M1372.0 1233.8L1408.1 1128.6" fill="none"/>
<path d="M1419.5 1095.5L1417.6 1131.9L1398.7 1125.4Z" stroke="none"/>
<path d="M1603.8 1157.0L1517.3 1036.0" fill="none"/>
<path d="M1497.0 1007.5L1525.5 1030.2L1509.2 1041.8Z" stroke="none"/>
</g>
</svg></body></html>
